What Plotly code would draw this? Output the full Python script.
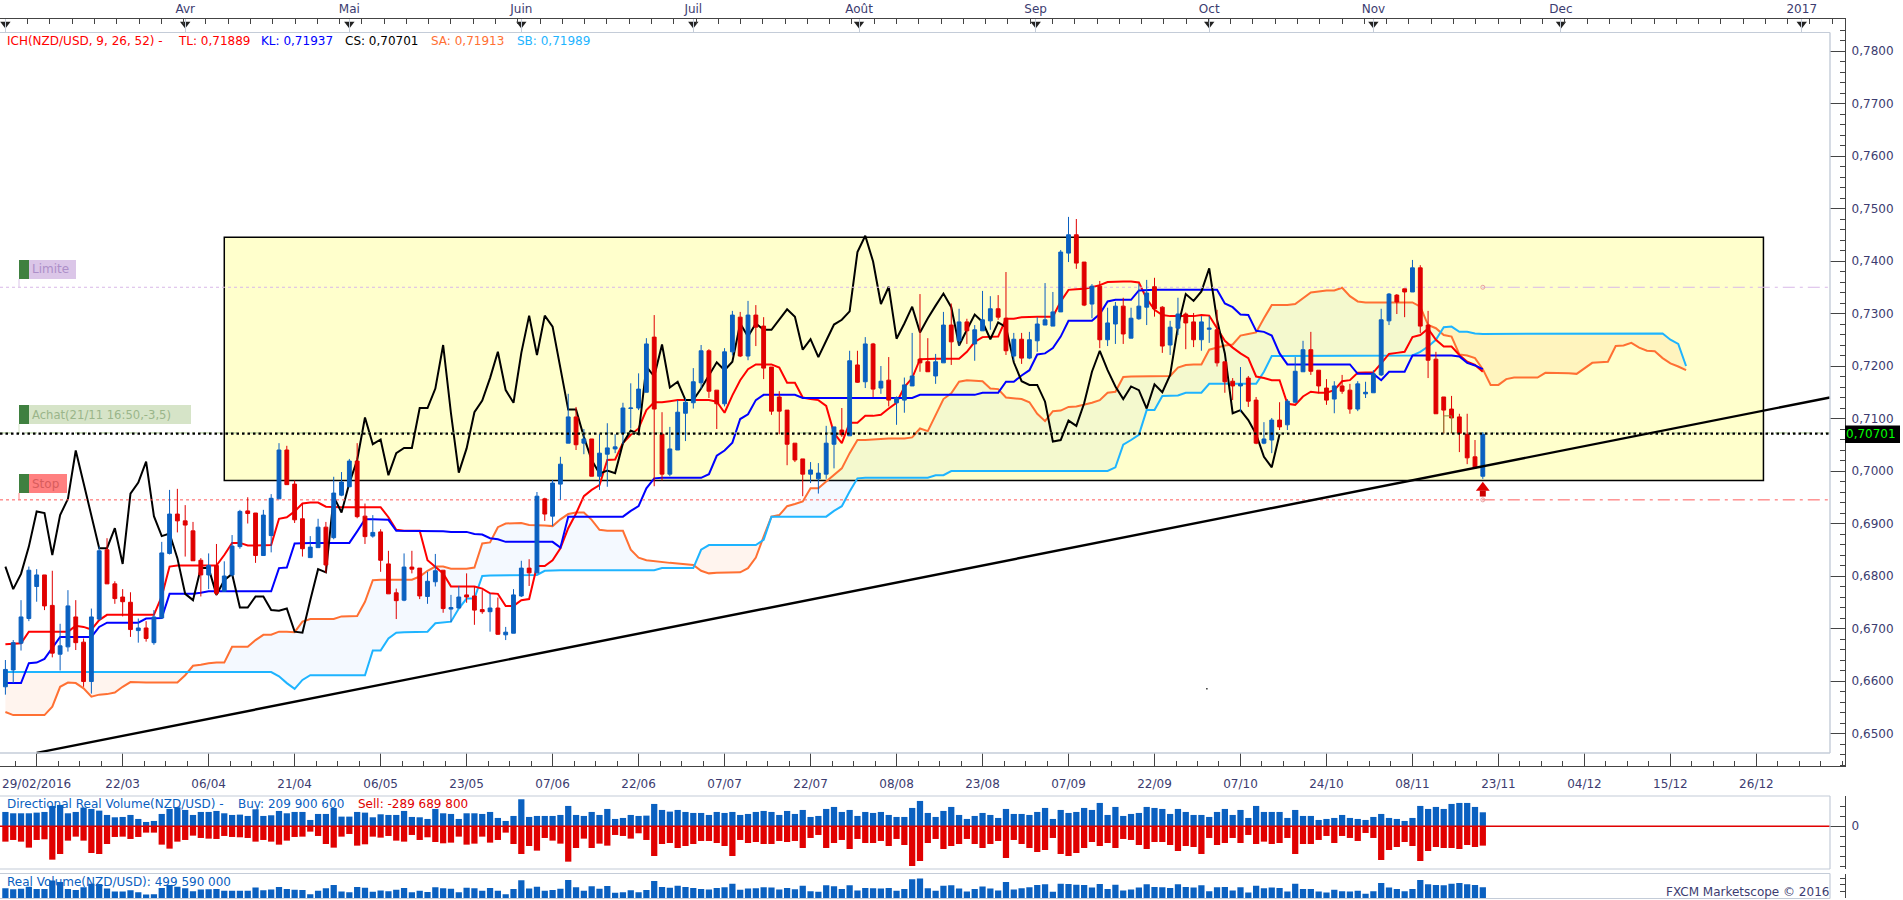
import numpy as np
import plotly.graph_objects as go

# ---- candle data, in pips (price x 10000), bars numbered from the left edge
open_pips = [
6589,6621,6672,6719,6780,6802,6744,6651,6665,6722,6674,6599,6718,6850,6785,6760,6750,6696,6701,6673,
6720,6843,6918,6905,6886,6830,6802,6820,6771,6802,6856,6924,6920,6839,6877,6947,7040,6975,
6909,6835,6854,6893,6873,6954,6970,7019,6914,6876,6884,6823,6768,6754,6817,6815,6761,6789,6811,6737,6739,6764,
6762,6736,6732,6739,6688,6691,6762,6815,6806,6947,6914,6975,7053,7103,7053,7061,6990,
7032,7042,7072,7119,7120,7150,7255,7070,6994,7040,7110,7130,7168,7229,7154,7128,7227,7293,7219,7297,7276,7198,7141,
7116,7053,7023,6994,6985,6994,7051,7078,7067,7202,7170,7242,7158,7173,7130,
7135,7162,7213,7208,7181,7206,7278,7248,7284,7242,7267,7286,7309,7291,7219,7251,7215,7248,7278,7276,7303,7415,7450,
7398,7318,7352,7250,7280,7314,7253,7290,7312,7351,7312,7240,7272,7299,7284,
7250,7270,7269,7208,7171,7162,7177,7135,7053,7059,7097,7088,7131,7189,7231,7192,7158,7137,7162,7154,7118,7147,7149,
7183,7286,7335,7347,7341,7387,7278,7213,7141,7118,7103,7070,7027,6990]
high_pips = [
6640,6678,6754,6818,6813,6802,6810,6709,6773,6754,6681,6738,6856,6872,6790,6775,6769,6719,6714,6735,
6865,6964,6966,6935,6903,6834,6843,6861,6828,6878,6926,6950,6920,6926,6956,7053,7048,6982,
6938,6876,6909,6903,6989,6998,7023,7053,6938,6916,6889,6848,6776,6843,6848,6815,6808,6842,6811,6764,6781,6805,
6780,6773,6767,6759,6703,6775,6829,6832,6960,6949,6983,7027,7147,7122,7080,7061,7070,
7091,7070,7130,7167,7186,7253,7297,7112,7084,7135,7139,7196,7240,7232,7154,7234,7305,7303,7324,7316,7293,7198,7152,
7116,7053,7023,7017,7015,7086,7084,7120,7229,7229,7255,7244,7200,7217,7142,
7178,7263,7337,7253,7223,7303,7319,7309,7290,7278,7343,7333,7335,7379,7263,7263,7265,7293,7358,7341,7421,7484,7480,
7398,7356,7362,7311,7322,7330,7311,7356,7364,7368,7314,7286,7330,7302,7301,
7295,7295,7307,7208,7177,7198,7181,7141,7093,7101,7131,7137,7217,7248,7265,7192,7175,7171,7183,7166,7171,7170,7192,
7309,7339,7337,7347,7402,7392,7305,7227,7141,7143,7109,7109,7059,7074]
low_pips = [
6574,6596,6658,6714,6751,6735,6645,6620,6656,6659,6589,6576,6716,6785,6747,6723,6684,6673,6675,6669,
6719,6841,6883,6837,6829,6761,6775,6763,6771,6799,6852,6900,6825,6839,6845,6947,6974,6901,
6837,6835,6854,6806,6870,6952,6970,6910,6861,6873,6808,6766,6718,6752,6805,6756,6747,6780,6730,6712,6739,6749,
6707,6728,6694,6688,6678,6691,6760,6781,6805,6905,6895,6945,7053,7040,7032,6990,6964,
6970,7034,7051,7081,7116,7150,6971,6982,6990,7040,7057,7119,7157,7139,7080,7123,7220,7217,7211,7238,7175,7107,7070,
7011,7017,6952,6977,6957,6985,7005,7065,7067,7168,7158,7141,7147,7123,7088,
7111,7162,7189,7189,7166,7206,7202,7238,7242,7210,7267,7269,7288,7221,7211,7204,7213,7227,7278,7276,7303,7398,7385,
7314,7291,7234,7238,7242,7242,7253,7288,7278,7294,7225,7221,7259,7232,7236,
7229,7244,7199,7149,7135,7112,7122,7051,7051,7034,7078,7078,7130,7189,7183,7148,7126,7110,7147,7109,7114,7139,7149,
7181,7278,7299,7293,7341,7263,7177,7109,7072,7072,7036,7013,7006,6985]
close_pips = [
6622,6673,6722,6811,6802,6743,6653,6667,6743,6673,6599,6722,6848,6785,6757,6751,6698,6701,6681,6722,
6844,6918,6905,6897,6829,6802,6820,6767,6800,6857,6923,6919,6839,6916,6948,7040,6974,6907,
6852,6855,6893,6821,6958,6979,7019,6913,6875,6883,6830,6766,6753,6817,6813,6762,6790,6810,6738,6740,6760,6760,
6735,6732,6739,6689,6693,6764,6815,6806,6952,6918,6977,7013,7103,7050,7061,6990,7034,
7044,7046,7120,7120,7156,7242,7118,6994,7042,7112,7131,7170,7229,7152,7128,7227,7297,7219,7297,7274,7196,7114,7114,
7051,7021,6994,7002,6996,7053,7084,7069,7210,7169,7242,7156,7171,7135,7139,
7164,7181,7206,7189,7208,7278,7246,7284,7267,7269,7288,7309,7293,7229,7251,7215,7250,7280,7288,7303,7417,7450,7396,
7316,7352,7250,7282,7314,7261,7291,7314,7339,7309,7238,7274,7299,7282,7250,
7284,7272,7206,7170,7162,7166,7133,7053,7061,7097,7084,7133,7190,7231,7190,7162,7135,7162,7152,7118,7166,7150,7185,
7288,7337,7322,7341,7387,7276,7211,7109,7116,7101,7072,7025,7006,7070]

# ---- Ichimoku lines, in pips
tenkan_pips = [
6670,6671,6672,6694,6694,6694,6694,6694,6694,6705,6703,6698,6716,6726,6726,6726,6726,6726,6726,6726,
6761,6818,6820,6820,6820,6820,6820,6820,6840,6863,6863,6858,6858,6858,6859,6909,6912,6923,6938,6940,
6940,6932,6931,6931,6931,6931,6931,6931,6931,6912,6888,6886,6886,6886,6830,6818,6805,6780,6780,6780,
6780,6776,6767,6766,6743,6743,6754,6756,6819,6819,6830,6853,6891,6919,6952,6964,6973,7021,7022,7053,
7069,7081,7116,7131,7131,7133,7135,7135,7135,7135,7135,7132,7111,7144,7173,7194,7203,7203,7203,7197,
7168,7168,7140,7137,7135,7124,7072,7053,7092,7092,7105,7105,7107,7119,7130,7160,7177,7213,7214,7214,
7214,7214,7214,7227,7246,7255,7256,7256,7290,7290,7293,7294,7294,7294,7294,7323,7345,7346,7347,7350,
7354,7360,7361,7361,7361,7359,7328,7307,7297,7295,7295,7295,7295,7297,7296,7272,7248,7235,7224,7215,
7180,7177,7173,7173,7128,7126,7142,7151,7149,7149,7154,7171,7173,7187,7188,7188,7205,7223,7225,7227,
7255,7259,7271,7250,7237,7237,7221,7208,7202,7189]
kijun_pips = [
6596,6596,6596,6634,6635,6642,6662,6684,6684,6684,6684,6684,6703,6711,6711,6711,6711,6711,6719,6719,
6720,6766,6766,6766,6766,6768,6771,6771,6771,6771,6771,6771,6771,6771,6771,6815,6816,6862,6863,6863,
6863,6863,6863,6863,6863,6885,6908,6908,6908,6907,6886,6886,6886,6886,6886,6886,6885,6884,6884,6884,
6880,6879,6872,6870,6865,6865,6865,6865,6865,6865,6865,6854,6913,6913,6913,6913,6913,6913,6913,6913,
6924,6933,6967,6986,6987,6987,6987,6987,6987,6987,6994,7029,7039,7054,7099,7108,7135,7145,7145,7145,
7145,7145,7139,7139,7139,7139,7139,7139,7139,7139,7139,7139,7139,7139,7139,7139,7139,7145,7145,7145,
7145,7145,7145,7145,7145,7149,7149,7149,7170,7170,7182,7192,7222,7224,7234,7256,7286,7286,7286,7286,
7299,7323,7326,7326,7326,7344,7345,7345,7345,7345,7345,7345,7345,7345,7345,7345,7319,7312,7298,7297,
7267,7265,7258,7224,7203,7203,7203,7203,7203,7203,7203,7203,7203,7185,7185,7185,7173,7189,7189,7189,
7220,7220,7220,7220,7220,7220,7218,7206,7201,7194]
chikou_pips = [
6818,6775,6804,6856,6923,6920,6840,6916,6947,7039,6977,6913,6853,6853,6891,6823,6957,6978,7018,6914,
6876,6881,6834,6766,6754,6815,6815,6764,6792,6804,6740,6740,6761,6761,6735,6734,6738,6694,6692,6754,
6813,6807,6951,6921,6977,7021,7102,7051,7060,6992,7034,7044,7044,7120,7120,7157,7240,7110,6997,7043,
7112,7134,7177,7227,7154,7130,7225,7296,7221,7296,7275,7196,7117,7117,7065,7021,6995,7001,6996,7053,
7077,7070,7199,7180,7241,7159,7170,7135,7135,7157,7183,7207,7192,7208,7281,7256,7281,7269,7269,7289,
7308,7294,7231,7251,7217,7248,7279,7288,7304,7417,7448,7399,7318,7351,7252,7281,7313,7264,7291,7315,
7338,7312,7239,7269,7298,7284,7251,7283,7274,7207,7171,7164,7164,7132,7056,7059,7096,7086,7129,7189,
7229,7192,7161,7137,7161,7154,7119,7165,7150,7183,7275,7337,7324,7342,7386,7288,7224,7110,7116,7097,
7070,7027,7007,7070]
senkou_a_pips = [
6541,6535,6535,6535,6535,6535,6551,6589,6597,6596,6586,6570,6574,6575,6578,6589,6598,6597,6597,6597,
6597,6597,6597,6611,6629,6631,6634,6635,6635,6665,6665,6665,6678,6688,6688,6694,6694,6693,6713,6718,
6718,6718,6718,6723,6724,6724,6751,6792,6793,6793,6793,6793,6793,6799,6810,6818,6818,6814,6814,6814,
6816,6862,6864,6893,6900,6901,6901,6897,6897,6896,6895,6908,6918,6921,6921,6907,6888,6886,6886,6886,
6850,6835,6830,6828,6826,6825,6824,6822,6821,6810,6805,6806,6806,6807,6807,6815,6835,6875,6913,6916,
6933,6937,6942,6967,6967,6980,6992,7005,7034,7059,7059,7060,7062,7062,7062,7062,7064,7081,7076,7105,
7137,7148,7170,7173,7172,7171,7157,7156,7140,7138,7137,7131,7109,7095,7114,7115,7122,7123,7126,7130,
7135,7149,7151,7179,7180,7180,7180,7180,7180,7181,7197,7202,7203,7203,7231,7235,7239,7241,7258,7261,
7264,7291,7316,7316,7316,7318,7329,7340,7342,7344,7344,7349,7333,7323,7321,7321,7321,7321,7321,7321,
7321,7313,7278,7272,7259,7256,7222,7220,7215,7194,7164,7164,7175,7178,7178,7178,7178,7187,7187,7186,
7186,7185,7195,7206,7207,7208,7238,7239,7244,7235,7229,7228,7215,7205,7199,7192]
senkou_b_pips = [
6617,6617,6617,6617,6617,6617,6617,6617,6617,6617,6617,6617,6617,6617,6617,6617,6617,6617,6617,6617,
6617,6617,6617,6617,6617,6617,6617,6617,6617,6617,6617,6617,6617,6617,6617,6609,6596,6585,6602,6611,
6611,6611,6611,6611,6611,6611,6611,6658,6658,6681,6692,6693,6693,6693,6694,6710,6712,6713,6738,6757,
6757,6800,6801,6801,6801,6801,6801,6801,6802,6810,6811,6811,6811,6811,6811,6811,6811,6811,6811,6811,
6811,6811,6811,6811,6815,6815,6815,6815,6815,6850,6859,6859,6859,6859,6859,6859,6859,6869,6913,6913,
6913,6913,6913,6913,6913,6913,6924,6933,6961,6986,6987,6987,6987,6987,6987,6987,6987,6987,6987,6992,
6992,7000,7000,7000,7000,7000,7000,7000,7000,7000,7000,7000,7000,7000,7000,7000,7000,7000,7000,7000,
7000,7000,7007,7050,7059,7069,7116,7116,7143,7144,7144,7149,7149,7149,7166,7166,7166,7166,7166,7166,
7166,7189,7219,7219,7219,7219,7219,7220,7220,7220,7220,7220,7220,7220,7220,7220,7220,7220,7220,7220,
7220,7227,7237,7250,7274,7275,7265,7265,7262,7261,7261,7261,7261,7261,7261,7261,7261,7262,7262,7262,
7262,7262,7262,7262,7262,7262,7262,7262,7262,7262,7262,7262,7262,7250,7242,7200]

# ---- volumes, in millions
buy_millions = [
215,195,195,195,205,215,305,320,195,215,280,260,235,170,135,140,170,110,65,80,
185,260,285,245,170,215,215,230,195,170,175,155,255,155,165,230,195,215,215,95,
185,185,275,145,145,215,205,135,180,170,170,230,140,135,110,260,195,185,110,195,
195,185,215,125,80,155,405,140,155,155,155,170,305,170,155,215,170,260,110,125,
170,155,160,335,245,220,245,215,200,200,170,215,200,215,170,185,215,230,215,170,
230,185,245,140,155,260,290,215,245,155,215,200,215,170,140,140,275,380,200,140,
230,290,170,110,155,200,170,125,260,185,185,170,215,275,110,245,200,215,275,245,
350,170,290,155,185,200,290,275,260,185,260,215,170,170,140,215,260,170,245,125,
305,215,215,215,125,245,155,155,95,110,125,170,125,110,95,140,185,125,110,80,
125,305,260,290,260,335,350,350,290,209.9]
sell_millions = [
230,205,230,320,205,195,500,415,215,155,215,400,415,265,160,155,190,160,95,95,
275,335,230,205,140,175,185,190,145,160,165,175,230,205,230,275,215,160,155,80,
145,265,320,155,115,290,270,155,170,145,215,230,130,205,165,235,255,245,155,275,
260,155,245,205,95,265,415,295,365,175,215,260,530,325,185,325,260,290,130,145,
185,105,205,445,265,250,325,295,265,220,220,250,295,445,205,250,235,265,265,220,
235,220,325,175,130,325,250,205,340,190,250,250,220,295,190,280,595,520,250,190,
340,295,265,190,265,325,265,220,475,205,265,325,385,355,175,415,445,400,325,235,
295,250,325,190,205,280,340,235,235,280,370,295,310,415,175,280,250,175,250,130,
265,230,265,250,175,415,265,265,205,145,250,145,175,220,100,175,505,355,310,235,
295,520,370,310,325,325,340,280,310,289.7]
real_volume_millions = [b + s for b, s in zip(buy_millions, sell_millions)]

# ---- levels and drawn objects (prices)
limit_price = 0.7350
entry_price = 0.7071
entry_link_price = 0.70725
stop_price = 0.6945
box_top_price, box_bottom_price = 0.7445, 0.6982
box_first_bar, box_last_bar = 28, 224.9
trend_bars = [4, 233.4]
trend_prices = [0.6463, 0.7140]
signal_bar, signal_head_price, signal_stem_price = 189, 0.6968, 0.6957
order_link_bars = [184, 184, 185, 185]
order_link_prices = [0.7073, 0.7105, 0.7105, 0.7073]
speck_bar, speck_price = 153.7, 0.6585

# ---- axes labels
price_ticks = [0.65, 0.66, 0.67, 0.68, 0.69, 0.70, 0.71, 0.72, 0.73, 0.74, 0.75, 0.76, 0.77, 0.78]
price_labels = ["0,6500", "0,6600", "0,6700", "0,6800", "0,6900", "0,7000", "0,7100", "0,7200",
                "0,7300", "0,7400", "0,7500", "0,7600", "0,7700", "0,7800"]
date_labels = ["29/02/2016", "22/03", "06/04", "21/04", "06/05", "23/05", "07/06", "22/06", "07/07", "22/07",
               "08/08", "23/08", "07/09", "22/09", "07/10", "24/10", "08/11", "23/11", "04/12", "15/12", "26/12"]
date_bars = [4, 15, 26, 37, 48, 59, 70, 81, 92, 103, 114, 125, 136, 147, 158, 169, 180, 191, 202, 213, 224]
month_labels = ["", "Avr", "Mai", "Juin", "Juil", "Août", "Sep", "Oct", "Nov", "Dec", "2017"]
month_bars = [0, 23, 44, 66, 88, 109.2, 131.8, 154, 175, 199, 229.8]

# ---- page geometry
W, H = 1903, 900
AXIS_X = 1845          # right hand ruler
PLOT_X = 1830          # end of the drawing area
BAR0, BAR_STEP = 5.4, 7.817
x_range = [(0 - BAR0) / BAR_STEP, (AXIS_X - BAR0) / BAR_STEP]
x_plot_end = (PLOT_X - BAR0) / BAR_STEP
Y_TOP, Y_BOT = 19, 766
y_of = lambda px: 0.7 + (471 - px) / 5250
y_range = [y_of(Y_BOT), y_of(Y_TOP)]
dom_x = [0, AXIS_X / W]
pyf = lambda px: 1 - px / H
pxf = lambda px: px / W

FONT = "DejaVu Sans"
FS = 12
AXIS_TXT = "#3c3c70"
BLUE = "#0a60c0"
RED = "#e00000"
GRID = "#c4ccd8"
DARK = "#444444"

def p(values):
    return [v / 10000 for v in values]

fig = go.Figure()

# Cloud fill, split where the two spans cross
sa = np.array(senkou_a_pips, float) / 10000
sb = np.array(senkou_b_pips, float) / 10000
n = min(len(sa), len(sb))
sa, sb = sa[:n], sb[:n]
xs = np.arange(n, dtype=float)
diff = sa - sb
start = 0
segments = []
for i in range(1, n + 1):
    if i == n or (diff[i] >= 0) != (diff[start] >= 0):
        seg_x = list(xs[start:i]); seg_a = list(sa[start:i]); seg_b = list(sb[start:i])
        if start > 0:
            t = diff[start - 1] / (diff[start - 1] - diff[start])
            cx = start - 1 + t; cy = sa[start - 1] + t * (sa[start] - sa[start - 1])
            seg_x.insert(0, cx); seg_a.insert(0, cy); seg_b.insert(0, cy)
        if i < n:
            t = diff[i - 1] / (diff[i - 1] - diff[i])
            cx = i - 1 + t; cy = sa[i - 1] + t * (sa[i] - sa[i - 1])
            seg_x.append(cx); seg_a.append(cy); seg_b.append(cy)
        segments.append((seg_x, seg_a, seg_b, diff[start] >= 0))
        start = i
for seg_x, seg_a, seg_b, up in segments:
    fig.add_trace(go.Scatter(
        x=seg_x + seg_x[::-1], y=seg_a + seg_b[::-1], fill="toself", mode="none",
        fillcolor="rgba(30,144,255,0.05)" if up else "rgba(255,110,30,0.075)",
        hoverinfo="skip", showlegend=False))

# Indicator lines
def line(values, color, width=2):
    fig.add_trace(go.Scatter(x=list(range(len(values))), y=p(values), mode="lines",
                             line=dict(color=color, width=width), showlegend=False))
line(senkou_a_pips, "#ff7033")
line(senkou_b_pips, "#1eb4ff")
line(tenkan_pips, "#ff0000")
line(kijun_pips, "#0000ff")
line(chikou_pips, "#000000")

# Level lines under the candles
fig.add_trace(go.Scatter(x=[x_range[0], 189], y=[limit_price] * 2, mode="lines",
                         line=dict(color="#d8b8e8", width=1, dash="3px,3px"), showlegend=False))
fig.add_trace(go.Scatter(x=[189, x_plot_end], y=[limit_price] * 2, mode="lines",
                         line=dict(color="#d8b8e8", width=1, dash="12px,5px,3px,5px"), showlegend=False))
fig.add_trace(go.Scatter(x=[x_range[0], 189], y=[stop_price] * 2, mode="lines",
                         line=dict(color="#ff5a5a", width=1, dash="3px,3px"), showlegend=False))
fig.add_trace(go.Scatter(x=[189, x_plot_end], y=[stop_price] * 2, mode="lines",
                         line=dict(color="#ff5a5a", width=1, dash="12px,5px,3px,5px"), showlegend=False))
fig.add_trace(go.Scatter(x=[x_range[0], x_plot_end], y=[entry_link_price] * 2, mode="lines",
                         line=dict(color="#a8c890", width=1, dash="12px,5px,3px,5px"), showlegend=False))

# Month ruler: the markers belong to the top axis, so that it is drawn
fig.add_trace(go.Scatter(x=month_bars, y=[y_of(24)] * len(month_bars), mode="markers",
                         marker=dict(symbol="triangle-down", size=9, color="#222222", line=dict(width=0)),
                         xaxis="x2", yaxis="y", showlegend=False))

# Candles on an overlaid pair of axes so that they sit above the indicators
bars = list(range(len(open_pips)))
fig.add_trace(go.Candlestick(
    x=bars, open=p(open_pips), high=p(high_pips), low=p(low_pips), close=p(close_pips),
    increasing=dict(line=dict(color=BLUE, width=1), fillcolor=BLUE),
    decreasing=dict(line=dict(color=RED, width=1), fillcolor=RED),
    whiskerwidth=0, xaxis="x3", yaxis="y2", showlegend=False))

# Top layer
fig.add_trace(go.Scatter(x=trend_bars, y=trend_prices, mode="lines",
                         line=dict(color="#000000", width=2.4), xaxis="x4", yaxis="y3", showlegend=False))
fig.add_trace(go.Scatter(x=[x_range[0], x_plot_end], y=[entry_price] * 2, mode="lines",
                         line=dict(color="#000000", width=2.2, dash="2.5px,3px"),
                         xaxis="x4", yaxis="y3", showlegend=False))
fig.add_trace(go.Scatter(x=order_link_bars, y=order_link_prices, mode="lines",
                         line=dict(color="#8c8c40", width=1), xaxis="x4", yaxis="y3", showlegend=False))
fig.add_trace(go.Scatter(x=[signal_bar], y=[signal_stem_price], mode="markers",
                         marker=dict(symbol="square", size=6, color="#cc0000", line=dict(width=0)),
                         xaxis="x4", yaxis="y3", showlegend=False))
fig.add_trace(go.Scatter(x=[signal_bar], y=[signal_head_price], mode="markers",
                         marker=dict(symbol="triangle-up", size=12, color="#e00000", line=dict(width=0)),
                         xaxis="x4", yaxis="y3", showlegend=False))
fig.add_trace(go.Scatter(x=[signal_bar, signal_bar], y=[limit_price, stop_price], mode="markers",
                         marker=dict(symbol="circle-open", size=4, color="#e8a0a0", line=dict(width=1)),
                         xaxis="x4", yaxis="y3", showlegend=False))
fig.add_trace(go.Scatter(x=[speck_bar], y=[speck_price], mode="markers",
                         marker=dict(symbol="square", size=1.5, color="#333333", line=dict(width=0)),
                         xaxis="x4", yaxis="y3", showlegend=False))

# Volume panels
fig.add_trace(go.Bar(x=bars, y=buy_millions, marker=dict(color=BLUE, line=dict(width=0)), width=0.8,
                     xaxis="x5", yaxis="y4", showlegend=False))
fig.add_trace(go.Bar(x=bars, y=[-s for s in sell_millions], marker=dict(color=RED, line=dict(width=0)), width=0.8,
                     xaxis="x5", yaxis="y4", showlegend=False))
fig.add_trace(go.Scatter(x=[x_range[0], x_plot_end], y=[0, 0], mode="lines",
                         line=dict(color="#e00000", width=1.4), xaxis="x5", yaxis="y4", showlegend=False))
fig.add_trace(go.Bar(x=bars, y=real_volume_millions, marker=dict(color=BLUE, line=dict(width=0)), width=0.8,
                     xaxis="x6", yaxis="y5", showlegend=False))

hidden_x = dict(domain=dom_x, range=x_range, visible=False, fixedrange=True)
hidden_y = dict(domain=[pyf(Y_BOT), pyf(Y_TOP)], range=y_range, visible=False, fixedrange=True)

shapes = []
def rect(x0, y0, x1, y1, fill, line_color=None, line_w=0, layer="above"):
    shapes.append(dict(type="rect", xref="paper", yref="paper", x0=pxf(x0), x1=pxf(x1), y0=pyf(y1), y1=pyf(y0),
                       fillcolor=fill, line=dict(color=line_color or fill, width=line_w), layer=layer))
def seg(x0, y0, x1, y1, color, w=1):
    shapes.append(dict(type="line", xref="paper", yref="paper", x0=pxf(x0), x1=pxf(x1), y0=pyf(y0), y1=pyf(y1),
                       line=dict(color=color, width=w), layer="above"))

# The box, below everything
shapes.append(dict(type="rect", xref="x", yref="y", x0=box_first_bar, x1=box_last_bar,
                   y0=box_bottom_price, y1=box_top_price, fillcolor="#ffffcc",
                   line=dict(color="#000000", width=1.5), layer="below"))
# Frame lines
seg(0, 32.5, PLOT_X, 32.5, GRID, 1.2)
seg(0, 753, PLOT_X, 753, GRID, 1.4)
seg(PLOT_X, 32.5, PLOT_X, 753, GRID, 1.4)
seg(0, 796, PLOT_X, 796, GRID, 1.2)
seg(0, 869, PLOT_X, 869, GRID, 1.2)
seg(PLOT_X, 796, PLOT_X, 869, GRID, 1.2)
seg(0, 873.5, PLOT_X, 873.5, GRID, 1.2)
seg(0, 898.5, PLOT_X, 898.5, GRID, 1.2)
seg(PLOT_X, 873.5, PLOT_X, 898.5, GRID, 1.2)
# Order tags
rect(19, 260, 76, 279, "#dbc6e8"); rect(19, 260, 29, 279, "#3f8040"); seg(19, 279, 19, 287, "#dbc6e8")
rect(19, 405, 191, 424, "#d6e4c8"); rect(19, 405, 29, 424, "#3f8040"); seg(19, 424, 19, 432, "#d6e4c8")
rect(19, 474, 67, 493, "#ff8080"); rect(19, 474, 29, 493, "#3f8040"); seg(19, 493, 19, 500, "#ff8080")
# Last price box
rect(AXIS_X, 425.5, 1900, 443, "#000000")

annotations = []
def label(x, y, text, color, size=FS, anchor="left"):
    annotations.append(dict(xref="paper", yref="paper", x=pxf(x), y=pyf(y), text=text, showarrow=False,
                            xanchor=anchor, yanchor="middle", align="left",
                            font=dict(family=FONT, size=size, color=color), borderpad=0, borderwidth=0))
label(7, 40.5, "ICH(NZD/USD, 9, 26, 52) -", "#ff0000")
label(178, 40.5, "TL: 0,71889", "#ff0000")
label(261, 40.5, "KL: 0,71937", "#0000ff")
label(345, 40.5, "CS: 0,70701", "#000000")
label(431, 40.5, "SA: 0,71913", "#ff7033")
label(517, 40.5, "SB: 0,71989", "#1eb4ff")
label(32, 269.5, "Limite", "#ad8fc8")
label(32, 414.5, "Achat(21/11 16:50,-3,5)", "#9ab58a", size=11.6)
label(32, 483.5, "Stop", "#d85c5c")
label(1845.5, 434.3, "0,70701", "#00ff00", size=12)
label(7, 803.5, "Directional Real Volume(NZD/USD) -", BLUE)
label(238, 803.5, "Buy: 209 900 600", BLUE)
label(358, 803.5, "Sell: -289 689 800", "#e00000")
label(7, 881.5, "Real Volume(NZD/USD): 499 590 000", BLUE)
label(1829, 891.5, "FXCM Marketscope © 2016", AXIS_TXT, anchor="right")

fig.update_layout(
    width=W, height=H, margin=dict(l=0, r=0, t=0, b=0), autosize=False,
    paper_bgcolor="#ffffff", plot_bgcolor="rgba(0,0,0,0)",
    font=dict(family=FONT, size=FS, color=AXIS_TXT),
    barmode="overlay", dragmode=False, showlegend=False, hovermode=False,
    shapes=shapes, annotations=annotations,
    xaxis=dict(domain=dom_x, range=x_range, showgrid=False, zeroline=False, fixedrange=True,
               anchor="y", side="bottom", showline=True, linecolor=DARK, linewidth=1.4,
               tickmode="array", tickvals=date_bars, ticktext=date_labels,
               ticks="inside", ticklen=13, tickcolor=DARK, tickwidth=1, ticklabelstandoff=6,
               tickfont=dict(family=FONT, size=FS, color=AXIS_TXT),
               minor=dict(ticks="inside", ticklen=5, tick0=4, dtick=2.75, tickcolor=DARK, tickwidth=1, showgrid=False),
               rangeslider=dict(visible=False)),
    xaxis2=dict(domain=dom_x, range=x_range, overlaying="x", side="top", anchor="y", showgrid=False, zeroline=False,
                fixedrange=True, showline=True, linecolor=DARK, linewidth=1.4,
                tickmode="array", tickvals=month_bars, ticktext=month_labels,
                ticks="inside", ticklen=13, tickcolor=GRID, tickwidth=1,
                tickfont=dict(family=FONT, size=FS, color=AXIS_TXT),
                minor=dict(ticks="inside", ticklen=5, tick0=0, dtick=2.85, tickcolor=DARK, tickwidth=1, showgrid=False)),
    xaxis3=dict(hidden_x, overlaying="x", anchor="y2", rangeslider=dict(visible=False)),
    xaxis4=dict(hidden_x, overlaying="x", anchor="y3"),
    yaxis=dict(domain=[pyf(Y_BOT), pyf(Y_TOP)], range=y_range, side="right", anchor="x", showgrid=False,
               zeroline=False, fixedrange=True, showline=True, linecolor=DARK, linewidth=1.4,
               tickmode="array", tickvals=price_ticks, ticktext=price_labels,
               ticks="inside", ticklen=15, tickcolor=DARK, tickwidth=1, ticklabelstandoff=3,
               tickfont=dict(family=FONT, size=FS, color=AXIS_TXT),
               minor=dict(ticks="inside", ticklen=5, tick0=0.65, dtick=0.002, tickcolor=DARK, tickwidth=1, showgrid=False)),
    yaxis2=dict(hidden_y, overlaying="y", anchor="x3"),
    yaxis3=dict(hidden_y, overlaying="y", anchor="x4"),
    xaxis5=dict(domain=dom_x, range=x_range, visible=False, fixedrange=True, anchor="y4"),
    yaxis4=dict(domain=[pyf(869), pyf(796)], range=[-640, 454], side="right", anchor="x5", showgrid=False,
                zeroline=False, fixedrange=True, showline=True, linecolor=DARK, linewidth=1.4,
                tickmode="array", tickvals=[0], ticktext=["0"], ticks="inside", ticklen=15, tickcolor=DARK,
                ticklabelstandoff=3, tickfont=dict(family=FONT, size=FS, color=AXIS_TXT),
                minor=dict(ticks="inside", ticklen=5, tick0=0, dtick=150, tickcolor=DARK, showgrid=False)),
    xaxis6=dict(domain=dom_x, range=x_range, visible=False, fixedrange=True, anchor="y5"),
    yaxis5=dict(domain=[pyf(898), pyf(873.5)], range=[0, 1130], side="right", anchor="x6", showgrid=False,
                zeroline=False, fixedrange=True, showline=True, linecolor=DARK, linewidth=1.4,
                tickmode="array", tickvals=[], ticks="inside", ticklen=5, tickcolor=DARK,
                minor=dict(ticks="inside", ticklen=5, tick0=0, dtick=300, tickcolor=DARK, showgrid=False)),
)

fig.write_html("out.html", config=dict(displayModeBar=False),
               post_script="document.body.style.margin='0';document.body.style.overflow='hidden';")
